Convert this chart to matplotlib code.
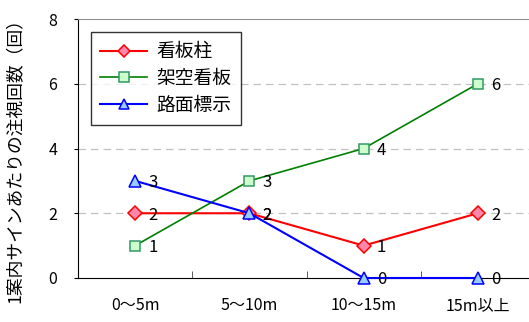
import matplotlib
matplotlib.use("Agg")
import matplotlib.pyplot as plt

plt.rcParams['font.family'] = ['Noto Sans CJK JP', 'DejaVu Sans']

categories = ['0～5m', '5～10m', '10～15m', '15m以上']
kanbanchu = [2, 2, 1, 2]      # 看板柱
kakuu = [1, 3, 4, 6]          # 架空看板
romen = [3, 2, 0, 0]          # 路面標示

fig = plt.figure(figsize=(5.29, 3.22), dpi=100)
ax = fig.add_axes([78/529, 44/322, 457/529, 259/322])

x = range(len(categories))
series = [
    ('看板柱', kanbanchu, '#ff0000', 'D', '#ff88aa', '#ff0000', 1.5, 7),
    ('架空看板', kakuu, '#008000', 's', '#ccffcc', '#339966', 1.2, 7.5),
    ('路面標示', romen, '#0000ff', '^', '#99ccff', '#0000ff', 1.5, 8.5),
]
for name, vals, col, mk, fc, ec, lw, ms in series:
    ax.plot(x, vals, color=col, lw=lw, marker=mk, ms=ms, mfc=fc, mec=ec,
            mew=1.1, label=name, clip_on=False, zorder=3)
    for xi, v in zip(x, vals):
        ax.annotate(str(v), (xi, v), xytext=(13, -2), textcoords='offset pixels',
                    ha='left', va='center', fontsize=12)

ax.set_xlim(-0.5, 3.5)
ax.set_ylim(0, 8)
ax.set_yticks([0, 2, 4, 6, 8])
ax.set_xticks(list(x))
ax.set_xticklabels(categories, fontsize=11.5)
ax.set_xticks([0.5, 1.5, 2.5], minor=True)
ax.tick_params(axis='x', which='major', length=0, pad=14)
ax.tick_params(axis='x', which='minor', direction='in', length=5, color='#404040')
ax.tick_params(axis='y', length=3, labelsize=11.5, pad=12)
for g in [2, 4, 6]:
    ax.axhline(g, color='#c0c0c0', lw=0.9, ls=(0, (6, 4)), zorder=1)

ax.spines['right'].set_visible(False)
ax.spines['top'].set_color('#909090')
ax.spines['left'].set_color('black')
ax.spines['bottom'].set_color('black')

ax.set_ylabel('1案内サインあたりの注視回数（回）', fontsize=12.8)
ax.yaxis.set_label_coords(-0.118, 0.47)

leg = ax.legend(loc='upper left', bbox_to_anchor=(0.028, 0.95), borderaxespad=0,
                fancybox=False, edgecolor='black', fontsize=13.5, handlelength=2.5,
                labelspacing=0.3, borderpad=0.5, handletextpad=0.5, markerscale=0.9)
leg.get_frame().set_linewidth(1.0)

fig.savefig('out.png', dpi=100)
